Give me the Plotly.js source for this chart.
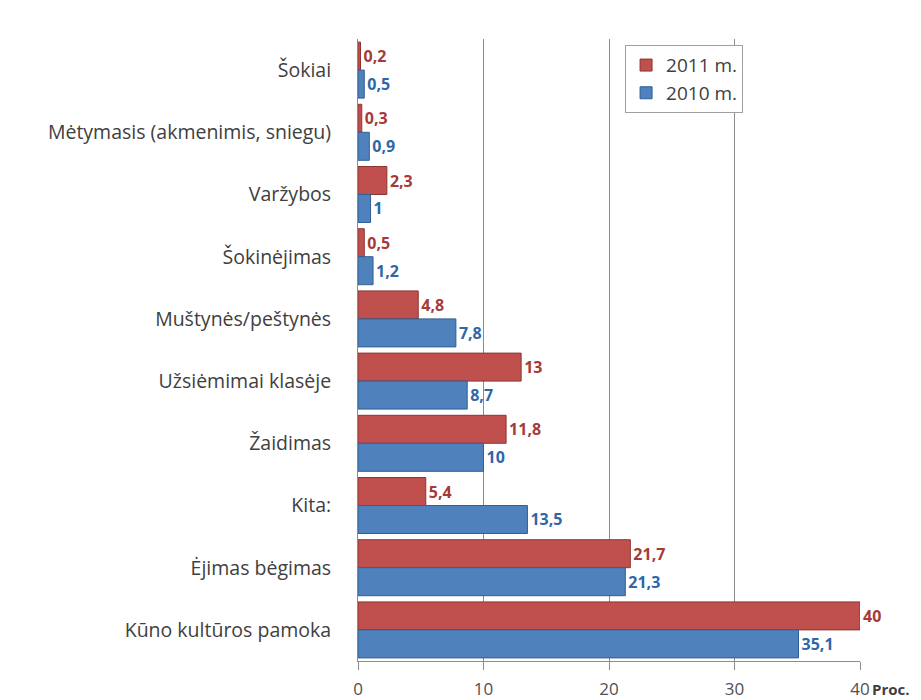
<!DOCTYPE html>
<html>
<head>
<meta charset="utf-8">
<script src="https://cdn.plot.ly/plotly-3.0.1.min.js"></script>
<style>html,body{margin:0;padding:0;background:#fff;}#chart{width:921px;height:700px;}</style>
</head>
<body>
<div id="chart"></div>
<script>
var categories = ["Šokiai", "Mėtymasis (akmenimis, sniegu)", "Varžybos", "Šokinėjimas", "Muštynės/peštynės", "Užsiėmimai klasėje", "Žaidimas", "Kita:", "Ėjimas bėgimas", "Kūno kultūros pamoka"];
var values2011 = [0.2, 0.3, 2.3, 0.5, 4.8, 13, 11.8, 5.4, 21.7, 40];
var values2010 = [0.5, 0.9, 1, 1.2, 7.8, 8.7, 10, 13.5, 21.3, 35.1];
var xTicks = [0, 10, 20, 30, 40];

function lab(arr){ return arr.map(function(v){ return String(v).replace('.', ','); }); }

var font = "Open Sans, Liberation Sans, sans-serif";
var traces = [
  {type:'bar', orientation:'h', name:'2011 m.', y:categories, x:values2011,
   marker:{color:'#C0504D', line:{color:'#8E3532', width:1}},
   text:lab(values2011), textposition:'outside', cliponaxis:false,
   texttemplate:'<b>%{text}</b>',
   textfont:{color:'#A63A37', size:16, family:font}, hoverinfo:'x+name'},
  {type:'bar', orientation:'h', name:'2010 m.', y:categories, x:values2010,
   marker:{color:'#4F81BD', line:{color:'#2F5F95', width:1}},
   text:lab(values2010), textposition:'outside', cliponaxis:false,
   texttemplate:'<b>%{text}</b>',
   textfont:{color:'#2E67A8', size:16, family:font}, hoverinfo:'x+name'}
];
var layout = {
  width:921, height:700,
  margin:{l:358, r:61, t:39, b:39},
  paper_bgcolor:'#fff', plot_bgcolor:'#fff',
  barmode:'group', bargap:0.1, bargroupgap:0,
  font:{family:font, color:'#404040', size:16},
  xaxis:{range:[0,40], tickvals:xTicks, ticktext:xTicks.map(String), showgrid:true, gridcolor:'#8c8c8c', gridwidth:1,
         zeroline:false, showline:true, linecolor:'#8c8c8c', ticks:'outside', tickcolor:'#8c8c8c', ticklen:8,
         ticklabelstandoff:5, tickfont:{size:17, color:'#505050'}, fixedrange:true},
  yaxis:{autorange:'reversed', showline:true, linecolor:'#8c8c8c', ticks:'', ticklen:0, ticklabelstandoff:22,
         tickfont:{size:19.5, color:'#404040'}, showgrid:false, fixedrange:true},
  legend:{x:0.532, y:0.99, xanchor:'left', yanchor:'top', bgcolor:'#fff', bordercolor:'#a0a0a0', borderwidth:1,
          font:{size:19, color:'#404040'}, traceorder:'normal', itemwidth:30, tracegroupgap:0},
  annotations:[{xref:'paper', yref:'paper', x:1.02, y:0, yshift:-28, xanchor:'left', yanchor:'middle', text:'<b>Proc.</b>', showarrow:false,
                font:{size:15, color:'#404040'}}],
  separators:', '
};
Plotly.newPlot('chart', traces, layout, {displayModeBar:false, staticPlot:true});
</script>
</body>
</html>
